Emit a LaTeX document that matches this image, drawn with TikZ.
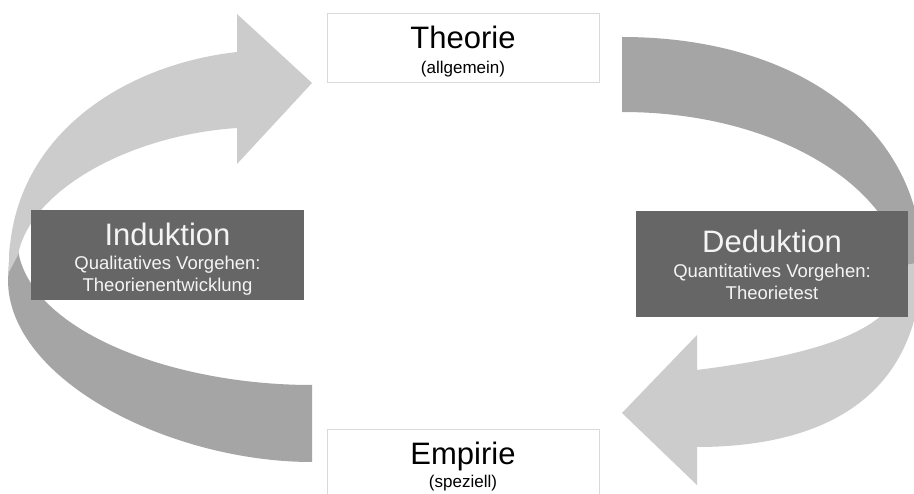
\documentclass[tikz,border=0pt]{standalone}
\usepackage{fontspec}
\setmainfont{Liberation Sans}
\definecolor{lightarr}{HTML}{CCCCCC}
\definecolor{darkarr}{HTML}{A5A5A5}
\definecolor{boxgray}{HTML}{666666}
\definecolor{boxline}{HTML}{D9D9D9}
\definecolor{boxtextcol}{HTML}{F4F4F4}
\begin{document}
\begin{tikzpicture}[x=1pt,y=-1pt,
  whitebox/.style={draw=boxline,line width=0.8pt,fill=white,inner sep=0pt},
  darkbox/.style={fill=boxgray,draw=none,inner sep=0pt},
  titletext/.style={anchor=base,inner sep=0pt,font=\fontsize{31}{31}\selectfont},
  subtext/.style={anchor=base,inner sep=0pt,font=\fontsize{17}{17}\selectfont},
  boxtext/.style={anchor=base,inner sep=0pt,text=boxtextcol,font=\fontsize{18.5}{18.5}\selectfont}]
\useasboundingbox (0,0) rectangle (914,494);
\clip (0,0) rectangle (914,494);
\fill[white] (0,0) rectangle (914,494);

% left arrow: dark back part
\fill[darkarr] (312,385) -- (312,462) .. controls (170,462) and (8,380) .. (8,280)
  -- (10,245) -- (18,250) .. controls (30,330) and (170,385) .. (312,385) -- cycle;
% left arrow: light front part with head
\fill[lightarr] (237,128) -- (237,164) -- (312,83) -- (237,14) -- (237,52)
  .. controls (120,65) and (6,140) .. (9,272) -- (18,255)
  .. controls (30,190) and (130,135) .. (237,128) -- cycle;

% right arrow: dark back part
\fill[darkarr] (622,112) -- (622,37) .. controls (800,37) and (920,130) .. (922,260)
  -- (922,285) -- (898,285) -- (900,255) .. controls (880,180) and (770,112) .. (622,112) -- cycle;
% right arrow: light front part with head
\fill[lightarr] (697,370) -- (697,335) -- (622,413) -- (697,485) -- (697,447)
  .. controls (820,447) and (920,400) .. (922,262) -- (905,265) -- (895,300)
  .. controls (870,340) and (790,358) .. (697,370) -- cycle;

% boxes
\node[whitebox,minimum width=272pt,minimum height=69pt] (theorie) at (463,47.5) {};
\node[whitebox,minimum width=272pt,minimum height=76pt] (empirie) at (463,467) {};
\node[darkbox,minimum width=273pt,minimum height=90pt] (induktion) at (167.5,255) {};
\node[darkbox,minimum width=272pt,minimum height=106pt] (deduktion) at (772,264) {};

% texts
\node[titletext] (theorieT) at (463,49) {Theorie};
\node[subtext] (theorieS) at (463,74) {(allgemein)};
\node[titletext] (empirieT) at (463,465) {Empirie};
\node[subtext] (empirieS) at (463,488) {(speziell)};
\node[titletext,text=boxtextcol] (induktionT) at (167.5,246) {Induktion};
\node[boxtext] (induktionS1) at (167.5,270) {Qualitatives Vorgehen:};
\node[boxtext] (induktionS2) at (167.5,292) {Theorienentwicklung};
\node[titletext,text=boxtextcol] (deduktionT) at (772,253) {Deduktion};
\node[boxtext] (deduktionS1) at (772,278) {Quantitatives Vorgehen:};
\node[boxtext] (deduktionS2) at (772,300) {Theorietest};
\end{tikzpicture}
\end{document}
